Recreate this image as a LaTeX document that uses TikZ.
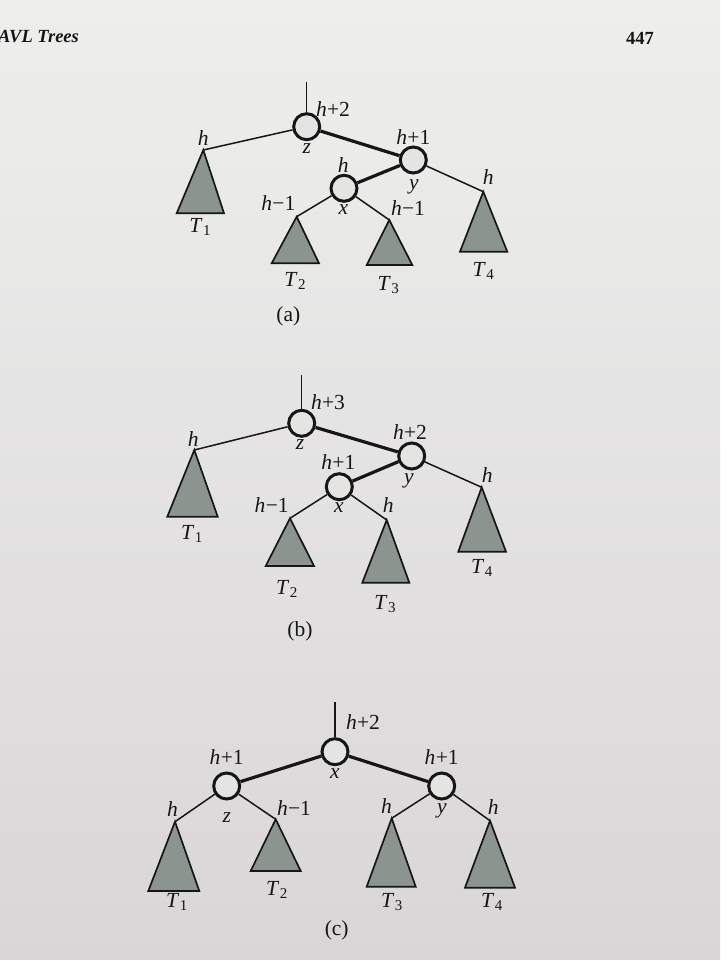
\documentclass[tikz,border=0pt]{standalone}
\usepackage{fontspec}
\setmainfont{Liberation Serif}
\usetikzlibrary{calc}
\definecolor{paper}{RGB}{228,229,226}
\definecolor{papertop}{RGB}{238,239,237}
\definecolor{paperbot}{RGB}{218,214,216}
\definecolor{trifill}{RGB}{140,148,144}
\definecolor{ink}{RGB}{22,22,22}
\newcommand{\Tn}[1]{\textit{T}\kern0.5pt\raisebox{-0.35ex}{\fontsize{15}{16}\selectfont #1}}
\newcommand{\hv}[1]{\textit{h}\kern0.3pt#1}
\tikzset{
  every node/.style={font=\fontsize{21.5}{24}\selectfont, text=ink},
  vert/.style={circle, draw=ink, line width=3pt, fill=paper, minimum size=26pt, inner sep=0pt},
  thin edge/.style={draw=ink, line width=1.5pt},
  thick edge/.style={draw=ink, line width=3.2pt},
  subtree/.style={fill=trifill, draw=ink, line width=1.7pt, line join=miter},
  lbl/.style={inner sep=0pt},
  vname/.style={inner sep=0pt, anchor=north},
}
\begin{document}
\begin{tikzpicture}[x=1pt,y=-1pt]
\useasboundingbox (0,0) rectangle (720,960);
\shade[top color=papertop, bottom color=paperbot] (0,0) rectangle (720,960);

% header
\node[lbl, anchor=west, font=\fontsize{18.5}{20}\selectfont\bfseries\itshape] (hdr) at (-2,37) {AVL Trees};
\node[lbl, font=\fontsize{18.5}{20}\selectfont\bfseries] (pg) at (640,38) {447};

% ---------------- (a) ----------------
\coordinate (aroot) at (306.7,81.7);
\coordinate (aT1) at (203.3,150);
\coordinate (aT2) at (296.7,216.7);
\coordinate (aT3) at (389.3,220);
\coordinate (aT4) at (483.3,191.7);
\node[vert] (az) at (306.7,126.7) {};
\node[vert] (ay) at (413.3,160) {};
\node[vert] (ax) at (344,188.3) {};
\draw[thin edge] (aroot) -- (az);
\draw[thin edge] (az) -- (aT1);
\draw[thick edge] (az) -- (ay);
\draw[thick edge] (ay) -- (ax);
\draw[thin edge] (ay) -- (aT4);
\draw[thin edge] (ax) -- (aT2);
\draw[thin edge] (ax) -- (aT3);
\filldraw[subtree] (aT1) -- (176.7,213.3) -- (224,213.3) -- cycle;
\filldraw[subtree] (aT2) -- (271.7,263.3) -- (319,263.3) -- cycle;
\filldraw[subtree] (aT3) -- (366.7,265) -- (412.3,265) -- cycle;
\filldraw[subtree] (aT4) -- (460,251.7) -- (507.3,251.7) -- cycle;
\node[lbl] (al1) at (333,109) {\hv{+2}};
\node[lbl] (al2) at (203.3,138) {\hv{}};
\node[vname] (al3) at (306.7,143) {\textit{z}};
\node[lbl] (al4) at (413.3,137.5) {\hv{+1}};
\node[lbl] (al5) at (343.3,165) {\hv{}};
\node[vname] (al6) at (414,179) {\textit{y}};
\node[lbl] (al7) at (488.3,177) {\hv{}};
\node[lbl] (al8) at (278.3,203.3) {\hv{−1}};
\node[vname] (al9) at (343.3,204) {\textit{x}};
\node[lbl] (al10) at (408,208.3) {\hv{−1}};
\node[lbl] (aTl1) at (200,227) {\Tn{1}};
\node[lbl] (aTl2) at (295,281) {\Tn{2}};
\node[lbl] (aTl3) at (388.3,285) {\Tn{3}};
\node[lbl] (aTl4) at (483.3,271) {\Tn{4}};
\node[lbl] (acap) at (288.3,316.7) {(a)};

% ---------------- (b) ----------------
\coordinate (broot) at (301.7,375);
\coordinate (bT1) at (194.3,450);
\coordinate (bT2) at (290,518.3);
\coordinate (bT3) at (386.7,520);
\coordinate (bT4) at (481.7,487.3);
\node[vert] (bz) at (301.7,423.3) {};
\node[vert] (by) at (411.7,456) {};
\node[vert] (bx) at (339.3,486.7) {};
\draw[thin edge] (broot) -- (bz);
\draw[thin edge] (bz) -- (bT1);
\draw[thick edge] (bz) -- (by);
\draw[thick edge] (by) -- (bx);
\draw[thin edge] (by) -- (bT4);
\draw[thin edge] (bx) -- (bT2);
\draw[thin edge] (bx) -- (bT3);
\filldraw[subtree] (bT1) -- (167.3,516.7) -- (217.7,516.7) -- cycle;
\filldraw[subtree] (bT2) -- (265.7,566) -- (314,566) -- cycle;
\filldraw[subtree] (bT3) -- (362.3,582.7) -- (409.3,582.7) -- cycle;
\filldraw[subtree] (bT4) -- (458.3,551.7) -- (506,551.7) -- cycle;
\node[lbl] (bl1) at (328,402) {\hv{+3}};
\node[lbl] (bl2) at (193.3,439) {\hv{}};
\node[vname] (bl3) at (300,439) {\textit{z}};
\node[lbl] (bl4) at (410,432.5) {\hv{+2}};
\node[lbl] (bl5) at (338.3,462.5) {\hv{+1}};
\node[vname] (bl6) at (409,473) {\textit{y}};
\node[lbl] (bl7) at (487.3,475) {\hv{}};
\node[lbl] (bl8) at (271.7,505) {\hv{−1}};
\node[vname] (bl9) at (339,502.5) {\textit{x}};
\node[lbl] (bl10) at (388.3,505.5) {\hv{}};
\node[lbl] (bTl1) at (191.7,534) {\Tn{1}};
\node[lbl] (bTl2) at (286.7,589) {\Tn{2}};
\node[lbl] (bTl3) at (385,604) {\Tn{3}};
\node[lbl] (bTl4) at (481.7,568) {\Tn{4}};
\node[lbl] (bcap) at (300,631) {(b)};

% ---------------- (c) ----------------
\coordinate (croot) at (335,701.7);
\coordinate (cT1) at (175,821.7);
\coordinate (cT2) at (275.7,819.3);
\coordinate (cT3) at (391.7,818.3);
\coordinate (cT4) at (490,820.7);
\node[vert] (cx) at (335,751.7) {};
\node[vert] (cz) at (226.7,786) {};
\node[vert] (cy) at (441.7,786) {};
\draw[thin edge] (croot) -- (cx);
\draw[thick edge] (cx) -- (cz);
\draw[thick edge] (cx) -- (cy);
\draw[thin edge] (cz) -- (cT1);
\draw[thin edge] (cz) -- (cT2);
\draw[thin edge] (cy) -- (cT3);
\draw[thin edge] (cy) -- (cT4);
\filldraw[subtree] (cT1) -- (148.3,891) -- (199.3,891) -- cycle;
\filldraw[subtree] (cT2) -- (250.7,871) -- (300.7,871) -- cycle;
\filldraw[subtree] (cT3) -- (366.7,886.7) -- (415.7,886.7) -- cycle;
\filldraw[subtree] (cT4) -- (465,887.7) -- (515,887.7) -- cycle;
\node[lbl] (cl1) at (363,722.5) {\hv{+2}};
\node[lbl] (cl2) at (226.7,757.5) {\hv{+1}};
\node[vname] (cl3) at (335,768) {\textit{x}};
\node[lbl] (cl4) at (441.7,757.5) {\hv{+1}};
\node[lbl] (cl5) at (172.7,809) {\hv{}};
\node[vname] (cl6) at (226.7,812) {\textit{z}};
\node[lbl] (cl7) at (294,808) {\hv{−1}};
\node[lbl] (cl8) at (386.7,806.5) {\hv{}};
\node[vname] (cl9) at (442,803) {\textit{y}};
\node[lbl] (cl10) at (493.3,807.5) {\hv{}};
\node[lbl] (cTl1) at (176.7,902) {\Tn{1}};
\node[lbl] (cTl2) at (276.7,890) {\Tn{2}};
\node[lbl] (cTl3) at (391.7,902) {\Tn{3}};
\node[lbl] (cTl4) at (491.7,902) {\Tn{4}};
\node[lbl] (ccap) at (336.7,930) {(c)};
\end{tikzpicture}
\end{document}
